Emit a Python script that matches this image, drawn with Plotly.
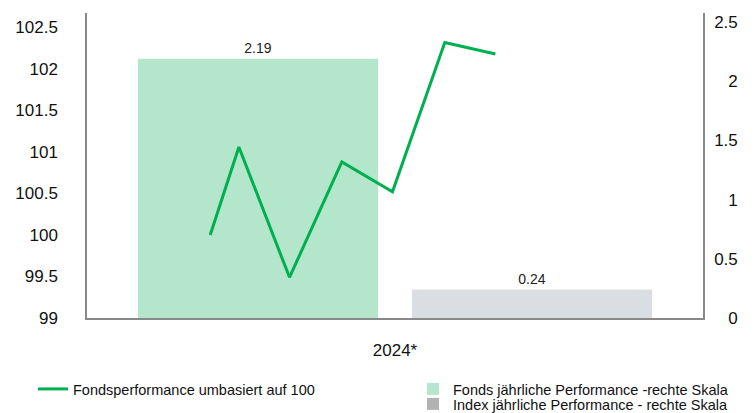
import plotly.graph_objects as go

# ---- data ----
categories = ["2024*"]
fonds_perf = [2.19]
index_perf = [0.24]
line_dates = ["2024-03-14", "2024-03-31", "2024-04-30", "2024-05-31",
              "2024-06-30", "2024-07-31", "2024-08-30"]
line_values = [100.0, 101.06, 99.49, 100.88, 100.52, 102.32, 102.18]
left_ticks = [99, 99.5, 100, 100.5, 101, 101.5, 102, 102.5]
left_ticktext = ["99", "99.5", "100", "100.5", "101", "101.5", "102", "102.5"]
right_ticks = [0, 0.5, 1, 1.5, 2, 2.5]
right_ticktext = ["\u2007\u20080", "0.5", "\u2007\u20081", "1.5", "\u2007\u20082", "2.5"]

FONT = "Liberation Sans, Arial, sans-serif"
GREEN = "#00b050"
FONDS_C = "#b3e6cb"
INDEX_C = "#dadee2"
INDEX_LEG = "#b2b2b2"
AXIS_C = "#888888"

fig = go.Figure()

# bars on x / y  (y = right scale)
fig.add_trace(go.Bar(
    x=categories, y=fonds_perf, name="Fonds jährliche Performance -rechte Skala",
    marker=dict(color=FONDS_C, line=dict(width=0)), xaxis="x", yaxis="y",
    text=[f"{v:.2f}" for v in fonds_perf], textposition="outside",
    textfont=dict(size=14, color="#222222"), cliponaxis=False,
    legend="legend2",
))
fig.add_trace(go.Bar(
    x=categories, y=index_perf, name="Index jährliche Performance - rechte Skala",
    marker=dict(color=INDEX_C, line=dict(width=0)), xaxis="x", yaxis="y",
    text=[f"{v:.2f}" for v in index_perf], textposition="outside",
    textfont=dict(size=14, color="#222222"), cliponaxis=False,
    showlegend=False,
))
# line on x2 / y2 (y2 = left scale)
fig.add_trace(go.Scatter(
    x=line_dates, y=line_values, name="Fondsperformance umbasiert auf 100",
    mode="lines", line=dict(color=GREEN, width=3), xaxis="x2", yaxis="y2",
    legend="legend",
))
# legend entry for the index series (swatch colour differs from bar fill)
fig.add_trace(go.Scatter(
    x=[None], y=[None], name="Index jährliche Performance - rechte Skala",
    mode="markers", marker=dict(symbol="square", size=12, color=INDEX_LEG),
    xaxis="x2", yaxis="y2", legend="legend3",
))

# page has an 8px body margin: figure origin sits at (8, 8) in the window
plot_h = 305.0
leg_font = dict(size=14.5, color="#111111")
fig.update_layout(
    width=748, height=405,
    margin=dict(l=79, r=53, t=5, b=95, autoexpand=False),
    paper_bgcolor="white", plot_bgcolor="white",
    font=dict(family=FONT, size=17, color="#111111"),
    barmode="group", bargap=0.11, bargroupgap=0.124,
    xaxis=dict(
        type="category", showline=True, linecolor=AXIS_C, linewidth=1.5,
        showgrid=False, ticks="", tickfont=dict(size=17), ticklabelstandoff=16,
        zeroline=False,
    ),
    xaxis2=dict(
        type="date", overlaying="x", range=["2024-01-01", "2024-12-31"],
        visible=False, showgrid=False, anchor="y2",
    ),
    yaxis=dict(
        range=[0, plot_h / 118.4], tickvals=right_ticks, ticktext=right_ticktext,
        side="right", showline=True, linecolor=AXIS_C,
        linewidth=1.5, showgrid=False, zeroline=False, ticks="",
        tickfont=dict(size=17), ticklabelstandoff=6,
    ),
    yaxis2=dict(
        range=[99, 99 + plot_h / 83.0], tickvals=left_ticks, ticktext=left_ticktext,
        overlaying="y", side="left", anchor="x",
        showline=True, linecolor=AXIS_C, linewidth=1.5, showgrid=False,
        zeroline=False, ticks="", tickfont=dict(size=17), ticklabelstandoff=24,
    ),
    legend=dict(
        x=(33 - 87) / 616.0, xanchor="left", y=(318 - 389) / plot_h, yanchor="middle",
        font=leg_font, bgcolor="rgba(0,0,0,0)", borderwidth=0, itemwidth=30,
    ),
    legend2=dict(
        x=(413 - 87) / 616.0, xanchor="left", y=(318 - 389) / plot_h, yanchor="middle",
        font=leg_font, bgcolor="rgba(0,0,0,0)", borderwidth=0, itemwidth=30,
    ),
    legend3=dict(
        x=(413 - 87) / 616.0, xanchor="left", y=(318 - 404) / plot_h, yanchor="middle",
        font=leg_font, bgcolor="rgba(0,0,0,0)", borderwidth=0, itemwidth=30,
    ),
)

fig.write_html("out.html")
